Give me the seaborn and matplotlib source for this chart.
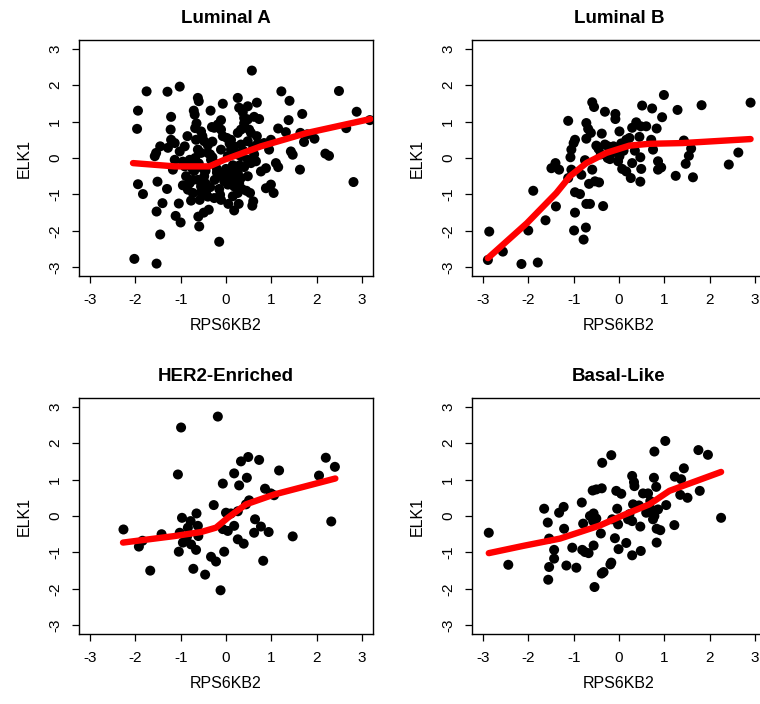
import matplotlib
matplotlib.use("Agg")
import matplotlib.pyplot as plt
import seaborn as sns
import pandas as pd

sns.set_theme(style="white")
plt.rcParams['font.family'] = ['Liberation Sans', 'DejaVu Sans']

titles = ["Luminal A", "Luminal B", "HER2-Enriched", "Basal-Like"]
x_label = "RPS6KB2"
y_label = "ELK1"
ticks = [-3, -2, -1, 0, 1, 2, 3]

lumA_x = [0.57, -1.75, -1.29, -1.02, 1.22, 2.49, -1.94, -1.96, -0.62, -0.60, -0.07, 0.26, 0.68, 1.40, 0.48,
          0.29, 0.37, -1.21, -0.69, -0.71, -0.34, -0.11, -0.18, -0.26, 0.40, 0.48, 0.62, 0.73, 1.38, 1.68,
          2.88, -1.22, -0.68, -0.55, -0.31, -0.11, -0.07, 0.26, 0.33, 0.51, 0.55, 1.15, 1.32, 1.64, 1.72,
          1.79, 1.95, 2.65, -1.21, -1.13, -1.45, -1.28, -0.91, -1.02, -0.66, -0.48, -0.62, -0.55, -0.40, 0.11,
          0.18, 0.33, 0.48, 0.68, 0.84, 0.99, 0.95, 1.43, 1.47, 2.19, 2.27, -1.57, -1.54, -1.13, -1.17,
          -0.91, -0.73, -0.33, -0.26, -0.11, 0.04, 0.11, 0.33, 0.48, 0.55, 0.66, 0.77, 0.88, 1.10, 1.15,
          1.63, 2.81, -1.94, -1.83, -1.51, -1.30, -0.88, -0.80, -0.73, -0.84, -0.73, -0.77, -0.62, -0.55, -0.48,
          -0.44, -0.40, -0.58, -0.26, -0.11, -0.13, -0.18, -0.04, 0.04, 0.11, 0.26, 0.33, 0.48, 0.18, 0.26,
          0.29, 0.53, 0.05, 0.18, 0.28, 0.60, 0.58, 0.88, 0.99, 1.05, -1.04, -1.40, -1.53, -1.11, -1.00,
          -0.61, -0.49, -0.38, -0.59, -1.45, -0.15, -2.02, -1.53, 3.17, -0.95, -0.45, -0.30, 0.20, 0.05,
          -0.20, 0.40, -0.85, -0.35, 0.15, -0.65, 0.70, 0.35, -0.25, -0.50, 0.60,
          -0.70, -0.60, -0.45, -0.30, -0.15, 0.00, 0.12, 0.25, 0.40, -0.80, -0.55, -0.40, -0.20, 0.08,
          0.22, 0.38, -0.95, -0.68, -0.35, 0.02, 0.30, 0.45, -0.10, -0.52, 0.15, 0.62, -0.78]
lumA_y = [2.40, 1.83, 1.82, 1.96, 1.83, 1.84, 1.30, 0.80, 1.65, 1.56, 1.49, 1.65, 1.52, 1.57, 1.42,
          1.38, 1.26, 1.13, 1.19, 1.30, 1.30, 1.04, 0.92, 0.83, 1.10, 1.06, 1.13, 1.07, 1.04, 1.21,
          1.27, 0.78, 0.82, 0.73, 0.85, 0.78, 0.60, 0.69, 0.78, 0.78, 0.69, 0.81, 0.71, 0.69, 0.44,
          0.65, 0.53, 0.82, 0.50, 0.41, 0.32, 0.28, 0.32, 0.18, 0.50, 0.46, 0.23, 0.14, 0.14, 0.50,
          0.32, 0.37, 0.46, 0.60, 0.41, 0.50, 0.23, 0.18, 0.09, 0.12, 0.06, 0.05, 0.14, -0.05, -0.32,
          -0.23, -0.32, -0.05, -0.14, 0.23, 0.05, 0.23, 0.05, -0.05, -0.14, -0.09, -0.37, -0.28, -0.14, -0.25,
          -0.32, -0.66, -0.72, -0.99, -0.65, -0.85, -0.50, -0.69, -0.60, -0.87, -0.96, -1.17, -0.60, -0.78, -0.50,
          -0.92, -1.06, -1.15, -1.10, -1.15, -1.01, -0.50, -0.64, -0.73, -0.32, -0.41, -0.55, -0.50, -0.78, -0.96,
          -0.69, -0.96, -1.26, -1.44, -1.26, -1.19, -1.31, -0.83, -0.73, -0.96, -1.25, -1.24, -1.47, -1.59, -1.77,
          -1.61, -1.50, -1.42, -1.88, -2.10, -2.30, -2.77, -2.90, 1.04, -0.10, -0.35, 0.45, 0.15, -0.45,
          -0.30, 0.95, 0.60, 0.10, -0.20, 0.95, 0.40, -0.85, -0.60, -0.30, 0.30,
          -0.35, -0.15, -0.70, 0.02, -0.85, -0.30, -0.55, 0.10, -0.25, -0.05, -0.95, 0.35, -0.40, 0.40,
          -0.60, 0.20, -0.75, 0.00, -0.80, 0.55, -0.20, -0.90, -0.45, 0.60, -1.05, 0.10, -0.15]
lumA_fit_x = [-2.05, -1.13, -0.37, -0.04, 0.77, 1.79, 3.18]
lumA_fit_y = [-0.14, -0.23, -0.23, -0.05, 0.32, 0.69, 1.07]

lumB_x = [-2.89, -2.86, -2.56, -2.15, -1.79, -2.00, -1.89, -1.62, -1.39, -1.12, -0.99, -0.97, -0.78, -0.73,
          -0.97, -0.86, -0.72, -0.64, -0.35, -1.49, -1.40, -1.32, -1.12, -1.05, -0.83, -0.75, -1.07, -1.05,
          -1.00, -0.97, -0.72, -0.68, -0.62, -0.72, -0.59, -0.55, -0.31, -0.38, -0.50, -0.45, -0.66, -0.53,
          -0.44, -0.59, -0.31, -0.24, -0.12, -0.20, -0.02, 0.01, -0.08, -0.08, 0.01, 0.16, 0.23, 0.29,
          0.38, 0.48, 0.60, 0.45, 0.51, 0.73, 0.83, 0.95, 0.99, 1.29, 1.82, 2.90, 0.71, 0.75, 0.47,
          0.29, 0.07, 0.16, 0.26, 0.49, 0.47, 0.86, 0.86, 0.93, 1.43, 1.59, 1.54, 1.47, 1.25, 1.63,
          2.42, 2.63, -0.40, -0.15, 0.10, 0.35, -0.25, 0.05]
lumB_y = [-2.80, -2.02, -2.57, -2.91, -2.87, -1.99, -0.90, -1.71, -1.33, 1.02, -1.99, -1.50, -2.24, -1.91,
          -0.94, -0.99, -1.26, -1.26, -1.32, -0.28, -0.14, -0.32, -0.55, -0.32, -0.46, -0.06, 0.02, 0.23,
          0.41, 0.50, 0.96, 0.80, 0.69, 0.53, 1.53, 1.40, 1.27, 0.67, 0.34, 0.25, -0.71, -0.64,
          -0.67, -0.32, 0.37, 0.32, 0.32, -0.03, -0.09, 0.05, 1.21, 1.07, 0.73, 0.50, 0.55, 0.83,
          0.98, 0.87, 0.87, 0.58, 1.44, 1.36, 0.81, 1.12, 1.73, 1.32, 1.45, 1.52, 0.50, 0.23, 0.02,
          -0.14, -0.30, -0.37, -0.55, -0.30, -0.65, -0.09, -0.32, -0.26, 0.48, 0.26, 0.06, -0.16, -0.49, -0.53,
          -0.18, 0.15, 0.10, 0.15, 0.20, 0.20, 0.00, 0.40]
lumB_fit_x = [-2.89, -2.03, -1.38, -1.08, -0.72, -0.28, 0.23, 0.67, 1.40, 2.90]
lumB_fit_y = [-2.75, -1.79, -0.96, -0.50, -0.14, 0.14, 0.34, 0.39, 0.41, 0.52]

her2_x = [-2.26, -1.92, -1.84, -1.67, -1.42, -0.99, -0.18, -1.06, -1.04, -0.97, -1.02, -0.95, -0.84, -0.78,
          -0.86, -0.65, -0.62, -0.61, -0.77, -0.66, -0.72, -0.46, -0.33, -0.22, -0.27, -0.07, -0.04, -0.12,
          0.00, 0.11, 0.26, -0.07, 0.04, 0.18, 0.26, 0.39, 0.18, 0.29, 0.33, 0.49, 0.46, 0.44, 0.51,
          0.64, 0.62, 0.77, 0.94, 0.73, 0.82, 0.86, 0.99, 1.06, 1.17, 1.47, 2.05, 2.20, 2.40, 2.32]
her2_y = [-0.37, -0.84, -0.68, -1.50, -0.50, 2.43, 2.73, 1.14, -0.98, -0.05, -0.46, -0.73, -0.32, -0.14,
          -0.57, 0.07, -0.27, -0.55, -0.78, -0.93, -1.45, -1.61, -1.12, -1.25, 0.30, 0.89, -0.98, -2.04,
          0.09, 0.07, 0.13, -0.36, -0.41, -0.27, -0.64, -0.76, 1.17, 0.84, 1.50, 1.62, 1.05, 0.32, 0.43,
          -0.09, -0.46, -0.29, -0.44, 1.54, -1.23, 0.75, 0.62, 0.57, 1.25, -0.56, 1.11, 1.60, 1.35, -0.15]
her2_fit_x = [-2.27, -1.13, -0.55, -0.22, 0.04, 0.44, 1.06, 2.41]
her2_fit_y = [-0.73, -0.55, -0.44, -0.32, -0.05, 0.32, 0.59, 1.03]

basal_x = [-2.87, -2.44, -1.65, -1.57, -1.54, -1.54, -1.56, -1.43, -1.43, -1.32, -1.22, -1.21, -1.16, -1.03,
           -0.94, -0.82, -0.79, -0.81, -0.75, -0.67, -0.64, -0.56, -0.50, -0.57, -0.58, -0.50, -0.38, -0.56,
           -0.40, -0.54, -0.38, -0.34, -0.37, -0.17, -0.19, -0.17, -0.09, -0.01, -0.04, -0.06, 0.05, -0.02,
           -0.15, 0.16, 0.29, 0.48, 0.47, 0.20, 0.29, 0.23, 0.31, 0.38, 0.44, 0.29, 0.33, 0.34, 0.53,
           0.64, 0.60, 0.71, 0.75, 0.78, 0.69, 0.77, 0.82, 0.78, 0.83, 0.83, 0.91, 0.86, 1.02, 1.04,
           1.22, 1.23, 1.37, 1.43, 1.35, 1.51, 1.75, 1.96, 1.78, 2.25]
basal_y = [-0.46, -1.34, 0.20, -0.18, -0.62, -1.40, -1.75, -0.93, -1.17, 0.09, 0.25, -0.35, -1.36, -0.87,
           -1.42, 0.37, -0.21, -0.93, -0.99, -1.02, 0.00, 0.07, -0.07, -0.14, 0.70, 0.73, 0.76, -0.81,
           -0.48, -1.95, -1.58, -1.54, 1.46, 1.67, -1.33, -1.28, -0.61, -0.91, 0.20, 0.69, 0.61, -0.23,
           -0.09, -0.74, -1.08, -0.96, -0.29, -0.09, -0.14, 0.05, 0.32, 0.27, 0.29, 1.10, 0.93, 0.82, 0.62,
           0.62, 0.09, 0.18, -0.09, 0.00, 0.41, 1.05, 0.80, 1.77, -0.73, -0.35, -0.39, 0.18, 2.06, 0.30,
           -0.25, 1.08, 1.01, 1.31, 0.58, 0.50, 1.81, 1.68, 0.69, -0.05]
basal_fit_x = [-2.87, -2.11, -1.30, -0.42, 0.09, 0.67, 1.11, 2.25]
basal_fit_y = [-1.02, -0.82, -0.62, -0.26, 0.02, 0.32, 0.69, 1.21]

panels = [
    (lumA_x, lumA_y, lumA_fit_x, lumA_fit_y),
    (lumB_x, lumB_y, lumB_fit_x, lumB_fit_y),
    (her2_x, her2_y, her2_fit_x, her2_fit_y),
    (basal_x, basal_y, basal_fit_x, basal_fit_y),
]

W, H = 760, 704
fig = plt.figure(figsize=(W / 100, H / 100), dpi=100)
fig.patch.set_facecolor("white")

lefts = [79, 472, 79, 472]
tops = [40, 40, 398, 398]
aw, ah = 294, 236

for i, (px, py, fx, fy) in enumerate(panels):
    ax = fig.add_axes([lefts[i] / W, 1 - (tops[i] + ah) / H, aw / W, ah / H])
    ax.set_facecolor("white")
    sns.scatterplot(x=px, y=py, ax=ax, color="black", s=52, edgecolor="none", linewidth=0, zorder=2)
    fit = pd.DataFrame({"x": fx, "y": fy})
    sns.lineplot(data=fit, x="x", y="y", ax=ax, color="#ff0000", linewidth=4.6,
                 estimator=None, sort=False, zorder=3, solid_capstyle="round")
    ax.set_xlim(-3.24, 3.24)
    ax.set_ylim(-3.24, 3.24)
    ax.set_xticks(ticks)
    ax.set_yticks(ticks)
    ax.set_xticklabels([str(t) for t in ticks])
    ax.set_yticklabels([str(t) for t in ticks], rotation=90, va="center")
    ax.tick_params(axis="both", which="both", direction="out", length=5, width=0.9,
                   colors="black", labelsize=11, bottom=True, left=True)
    ax.tick_params(axis="x", pad=7)
    ax.tick_params(axis="y", pad=7)
    for sp in ax.spines.values():
        sp.set_visible(True)
        sp.set_color("black")
        sp.set_linewidth(1.0)
    ax.set_xlabel(x_label, fontsize=11.5, color="black", labelpad=8)
    ax.set_ylabel(y_label, fontsize=11.5, color="black", labelpad=12)
    ax.set_title(titles[i], fontsize=13.5, fontweight="bold", color="black", pad=12)
    ax.grid(False)

fig.savefig("out.png", dpi=100, facecolor="white")
